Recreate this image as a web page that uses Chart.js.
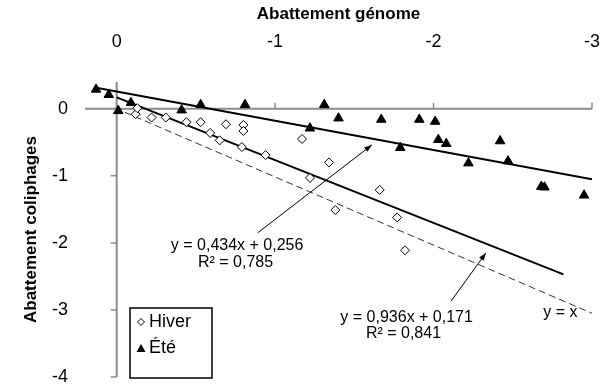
<!DOCTYPE html>
<html>
<head>
<meta charset="utf-8">
<script src="https://cdn.jsdelivr.net/npm/chart.js@4.4.1/dist/chart.umd.min.js"></script>
<style>
  html, body { margin: 0; background: #fff; }
  #wrap { width: 600px; height: 385px; }
</style>
</head>
<body>
<div id="wrap"><canvas id="myChart"></canvas></div>
<script>
// Hiver (winter) points
const hiverX = [-0.12, -0.13, -0.22, -0.31, -0.44, -0.53, -0.59, -0.65, -0.69, -0.80, -0.80, -0.79, -0.94, -1.17, -1.34, -1.22, -1.38, -1.66, -1.77, -1.82];
const hiverY = [-0.08, 0.01, -0.13, -0.13, -0.20, -0.20, -0.36, -0.47, -0.23, -0.24, -0.33, -0.57, -0.69, -0.45, -0.80, -1.03, -1.51, -1.21, -1.62, -2.11];

// Été (summer) points
const eteX = [0.13, 0.05, -0.09, -0.01, -0.41, -0.53, -0.81, -1.31, -1.40, -1.22, -1.67, -1.91, -1.79, -2.01, -2.03, -2.08, -2.42, -2.22, -2.47, -2.68, -2.70, -2.95];
const eteY = [0.29, 0.21, 0.09, -0.03, -0.02, 0.06, 0.06, 0.06, -0.14, -0.29, -0.16, -0.16, -0.58, -0.19, -0.46, -0.52, -0.48, -0.81, -0.78, -1.16, -1.17, -1.29];

// trend lines (end points) and the y = x reference
const eteLineX = [0.12, -3.0];
const eteLineY = [0.31, -1.05];
const hiverLineX = [0.0, -2.82];
const hiverLineY = [0.17, -2.47];
const identX = [-0.05, -3.0];
const identY = [-0.05, -3.05];

const xTicks = [0, -1, -2, -3];
const yTicks = [0, -1, -2, -3, -4];

// annotation texts, in data units
const notes = [
    { text: 'y = 0,434x + 0,256', x: -0.76, y: -2.04 },
    { text: 'R² = 0,785', x: -0.75, y: -2.29 },
    { text: 'y = 0,936x + 0,171', x: -1.83, y: -3.11 },
    { text: 'R² = 0,841', x: -1.81, y: -3.35 },
    { text: 'y = x', x: -2.80, y: -3.04 }
];
const arrows = [
    { fromX: -0.89, fromY: -1.85, toX: -1.61, toY: -0.54 },
    { fromX: -2.11, fromY: -2.87, toX: -2.33, toY: -2.15 }
];

const FONT = "'Liberation Sans', Arial, sans-serif";
const pts = (xs, ys) => xs.map((v, i) => ({ x: v, y: ys[i] }));

const axesAtZero = {
    id: 'axesAtZero',
    beforeDatasetsDraw(chart) {
        const { ctx, chartArea: a, scales: { x, y } } = chart;
        const x0 = x.getPixelForValue(0);
        const y0 = y.getPixelForValue(0);
        ctx.save();
        ctx.strokeStyle = '#8c8c8c';
        ctx.lineWidth = 2;
        ctx.beginPath();
        ctx.moveTo(a.left, y0);
        ctx.lineTo(a.right, y0);
        ctx.moveTo(x0, a.top);
        ctx.lineTo(x0, a.bottom);
        ctx.stroke();
        ctx.lineWidth = 1.5;
        ctx.beginPath();
        xTicks.slice(1).forEach(v => {
            const px = x.getPixelForValue(v);
            ctx.moveTo(px, y0);
            ctx.lineTo(px, y0 - 6);
        });
        yTicks.slice(1).forEach(v => {
            const py = y.getPixelForValue(v);
            ctx.moveTo(x0 - 6, py);
            ctx.lineTo(x0, py);
        });
        ctx.stroke();
        ctx.restore();
    }
};

function diamond(ctx, cx, cy, r) {
    ctx.beginPath();
    ctx.moveTo(cx, cy - r);
    ctx.lineTo(cx + r, cy);
    ctx.lineTo(cx, cy + r);
    ctx.lineTo(cx - r, cy);
    ctx.closePath();
    ctx.fillStyle = '#fff';
    ctx.fill();
    ctx.stroke();
}

function triangle(ctx, cx, cy, r) {
    ctx.beginPath();
    ctx.moveTo(cx, cy - r);
    ctx.lineTo(cx + r * 0.9, cy + r * 0.6);
    ctx.lineTo(cx - r * 0.9, cy + r * 0.6);
    ctx.closePath();
    ctx.fillStyle = '#000';
    ctx.fill();
}

const annotations = {
    id: 'annotations',
    afterDatasetsDraw(chart) {
        const { ctx, chartArea: a, scales: { x, y } } = chart;
        ctx.save();
        ctx.fillStyle = '#000';
        ctx.font = '16px ' + FONT;
        ctx.textAlign = 'center';
        ctx.textBaseline = 'middle';
        notes.forEach(n => ctx.fillText(n.text, x.getPixelForValue(n.x), y.getPixelForValue(n.y)));

        ctx.strokeStyle = '#000';
        ctx.lineWidth = 1;
        arrows.forEach(ar => {
            const x1 = x.getPixelForValue(ar.fromX), y1 = y.getPixelForValue(ar.fromY);
            const x2 = x.getPixelForValue(ar.toX), y2 = y.getPixelForValue(ar.toY);
            const ang = Math.atan2(y2 - y1, x2 - x1);
            ctx.beginPath();
            ctx.moveTo(x1, y1);
            ctx.lineTo(x2, y2);
            ctx.stroke();
            ctx.beginPath();
            ctx.moveTo(x2, y2);
            ctx.lineTo(x2 - 8 * Math.cos(ang - 0.35), y2 - 8 * Math.sin(ang - 0.35));
            ctx.lineTo(x2 - 8 * Math.cos(ang + 0.35), y2 - 8 * Math.sin(ang + 0.35));
            ctx.closePath();
            ctx.fill();
        });

        // legend box, bottom left of the plot
        const bx = a.left + 45, bw = 82, bh = 70, by = a.bottom - bh + 1;
        ctx.fillStyle = '#fff';
        ctx.fillRect(bx, by, bw, bh);
        ctx.lineWidth = 1.5;
        ctx.strokeRect(bx, by, bw, bh);
        ctx.lineWidth = 1;
        diamond(ctx, bx + 11, by + 14, 3.5);
        triangle(ctx, bx + 11, by + 41, 5);
        ctx.fillStyle = '#000';
        ctx.textAlign = 'left';
        ctx.font = '18px ' + FONT;
        ctx.fillText('Hiver', bx + 19, by + 14);
        ctx.fillText('Été', bx + 19, by + 40);
        ctx.restore();
    }
};

const ctx = document.getElementById('myChart').getContext('2d');
new Chart(ctx, {
    type: 'scatter',
    data: {
        datasets: [{
            label: 'Hiver',
            data: pts(hiverX, hiverY),
            pointStyle: 'rectRot',
            pointRadius: 4.5,
            backgroundColor: '#fff',
            borderColor: '#000',
            borderWidth: 1
        }, {
            label: 'Été',
            data: pts(eteX, eteY),
            pointStyle: 'triangle',
            pointRadius: 5.5,
            backgroundColor: '#000',
            borderColor: '#000',
            borderWidth: 1
        }, {
            label: 'tendance été',
            data: pts(eteLineX, eteLineY),
            showLine: true,
            pointRadius: 0,
            borderColor: '#000',
            borderWidth: 2
        }, {
            label: 'tendance hiver',
            data: pts(hiverLineX, hiverLineY),
            showLine: true,
            pointRadius: 0,
            borderColor: '#000',
            borderWidth: 2
        }, {
            label: 'y = x',
            data: pts(identX, identY),
            showLine: true,
            pointRadius: 0,
            borderColor: '#333',
            borderWidth: 1,
            borderDash: [7, 4]
        }]
    },
    options: {
        responsive: true,
        maintainAspectRatio: false,
        animation: false,
        layout: { padding: { left: 0, right: 7, top: 0, bottom: 0 } },
        plugins: {
            legend: { display: false },
            tooltip: { enabled: false }
        },
        scales: {
            x: {
                type: 'linear',
                position: 'top',
                reverse: true,
                min: -3,
                max: 0.2,
                afterBuildTicks: s => { s.ticks = xTicks.map(v => ({ value: v })); },
                afterFit: s => { s.height = 82; s.paddingLeft = 0; s.paddingRight = 8; },
                grid: { display: false, drawTicks: false },
                border: { display: false },
                ticks: {
                    color: '#000',
                    font: { family: FONT, size: 18 },
                    padding: 29,
                    maxRotation: 0
                },
                title: {
                    display: true,
                    text: 'Abattement génome',
                    color: '#000',
                    font: { family: FONT, size: 17, weight: 'bold' },
                    padding: { top: 4, bottom: 0 }
                }
            },
            y: {
                type: 'linear',
                min: -4,
                max: 0.4,
                afterBuildTicks: s => { s.ticks = yTicks.map(v => ({ value: v })); },
                afterFit: s => { s.width = 85; s.paddingTop = 0; s.paddingBottom = 8; },
                grid: { display: false, drawTicks: false },
                border: { display: false },
                ticks: {
                    color: '#000',
                    font: { family: FONT, size: 18 },
                    padding: 17
                },
                title: {
                    display: true,
                    text: 'Abattement coliphages',
                    color: '#000',
                    font: { family: FONT, size: 17, weight: 'bold' },
                    padding: { top: 21, bottom: 0 }
                }
            }
        }
    },
    plugins: [axesAtZero, annotations]
});
</script>
</body>
</html>
